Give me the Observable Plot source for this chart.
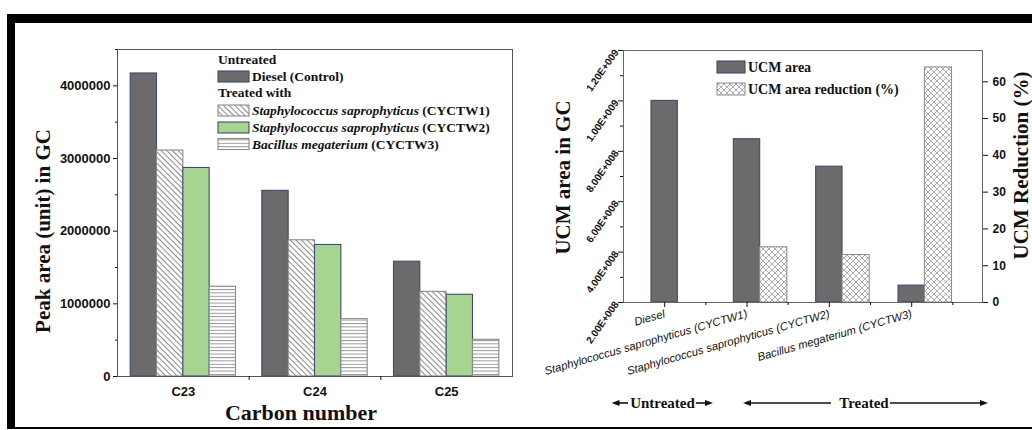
<!DOCTYPE html>
<html><head><meta charset="utf-8">
<script src="https://cdn.jsdelivr.net/npm/d3@7"></script>
<script src="https://cdn.jsdelivr.net/npm/@observablehq/plot@0.6"></script>
<style>
body{margin:0;background:#fff;}
#root{position:relative;width:1032px;height:430px;overflow:hidden;background:#fff;}
.panel{position:absolute;top:0;height:430px;}
.border{position:absolute;background:#000;}
.ital text{font-style:italic;}
</style></head><body>
<div id="root">
 <div id="left" class="panel" style="left:0;width:520px"></div>
 <div id="right" class="panel" style="left:520px;width:512px"></div>
 <div class="border" style="left:7px;top:14px;width:1025px;height:9px"></div>
 <div class="border" style="left:7px;top:14px;width:8px;height:415px"></div>
 <div class="border" style="left:7px;top:427px;width:1025px;height:2px"></div>
</div>
<script>
// ---------- data ----------
const carbons = ["C23", "C24", "C25"];
const peakSeries = ["Diesel (Control)", "Staphylococcus saprophyticus (CYCTW1)", "Staphylococcus saprophyticus (CYCTW2)", "Bacillus megaterium (CYCTW3)"];
const dieselPeak = [4170000, 2555000, 1580000];
const cyctw1Peak = [3110000, 1875000, 1165000];
const cyctw2Peak = [2870000, 1810000, 1125000];
const cyctw3Peak = [1235000, 790000, 505000];
const peakTicks = [0, 1000000, 2000000, 3000000, 4000000];
const peakMinorTicks = [500000, 1500000, 2500000, 3500000, 4500000];

const treatments = ["Diesel", "Staphylococcus saprophyticus (CYCTW1)", "Staphylococcus saprophyticus (CYCTW2)", "Bacillus megaterium (CYCTW3)"];
const ucmArea = [1.0e9, 8.48e8, 7.39e8, 2.67e8];
const ucmReduction = [null, 15.0, 12.9, 63.9];
const ucmTicks = [2e8, 4e8, 6e8, 8e8, 1e9, 1.2e9];
const ucmMinorTicks = [3e8, 5e8, 7e8, 9e8, 1.1e9];
const pctTicks = [0, 10, 20, 30, 40, 50, 60];
const pctMax = 68.5;

// ---------- styles ----------
const SERIF = "'Liberation Serif','Times New Roman',serif";
const SANS = "'Liberation Sans',Arial,sans-serif";
const darkFill = "#6d6a6c", darkStroke = "#3f4a72";
const fills = [darkFill, "url(#pL-diag)", "#a7d591", "url(#pL-horiz)"];
const strokes = [darkStroke, "#8a8a8a", darkStroke, "#8a8a8a"];

function addDefs(svg, which) {
  const defs = d3.select(svg).insert("defs", ":first-child");
  if (which === "L") {
    const p1 = defs.append("pattern").attr("id", "pL-diag").attr("patternUnits", "userSpaceOnUse")
      .attr("width", 4).attr("height", 4).attr("patternTransform", "rotate(45)");
    p1.append("rect").attr("width", 4).attr("height", 4).attr("fill", "#fff");
    p1.append("line").attr("x1", 0).attr("y1", 0.5).attr("x2", 4).attr("y2", 0.5).attr("stroke", "#8c8c8c").attr("stroke-width", 1.1);
    const p2 = defs.append("pattern").attr("id", "pL-horiz").attr("patternUnits", "userSpaceOnUse")
      .attr("width", 4).attr("height", 3.4);
    p2.append("rect").attr("width", 4).attr("height", 3.4).attr("fill", "#fff");
    p2.append("line").attr("x1", 0).attr("y1", 0.5).attr("x2", 4).attr("y2", 0.5).attr("stroke", "#8c8c8c").attr("stroke-width", 0.9);
  } else {
    const p = defs.append("pattern").attr("id", "pR-cross").attr("patternUnits", "userSpaceOnUse")
      .attr("width", 6).attr("height", 6);
    p.append("rect").attr("width", 6).attr("height", 6).attr("fill", "#fff");
    p.append("path").attr("d", "M0,0L6,6M6,0L0,6").attr("stroke", "#999").attr("stroke-width", 0.8).attr("fill", "none");
  }
}

// ---------- left chart ----------
const peakRows = [];
[dieselPeak, cyctw1Peak, cyctw2Peak, cyctw3Peak].forEach((vals, j) =>
  vals.forEach((v, i) => peakRows.push({carbon: i, series: j, value: v})));
const BW = 0.2;

const left = Plot.plot({
  width: 520, height: 430,
  marginLeft: 117, marginRight: 8, marginTop: 49, marginBottom: 54,
  style: {background: "transparent", fontFamily: SANS, color: "#111"},
  x: {domain: [-0.5, 2.5], label: null},
  y: {domain: [0, 4500000], label: null},
  color: {type: "identity"},
  marks: [
    Plot.rectY(peakRows, {
      x1: d => d.carbon + (d.series - 2) * BW,
      x2: d => d.carbon + (d.series - 1) * BW,
      y1: 0, y2: "value",
      fill: d => fills[d.series], stroke: d => strokes[d.series], strokeWidth: 1.1
    }),
    Plot.frame({stroke: "#555"}),
    Plot.axisY({ticks: peakTicks, tickSize: 4, tickPadding: 3, tickFormat: d => String(d),
      fontSize: 13, fontWeight: "bold", fontFamily: SANS, label: null}),
    Plot.axisY({ticks: peakMinorTicks, tickSize: 2, tickFormat: () => "", label: null}),
    Plot.axisX({ticks: [0, 1, 2], tickSize: 0, tickPadding: 10, tickFormat: i => carbons[i],
      fontSize: 13, fontWeight: "bold", fontFamily: SANS, label: null}),
    Plot.axisX({ticks: [0.5, 1.5], tickSize: 4, tickFormat: () => "", label: null}),
    Plot.text(["Peak area (unit) in GC"], {text: d => d, frameAnchor: "left", rotate: -90, dx: -74, dy: 18,
      textAnchor: "middle", lineAnchor: "middle",
      fontSize: 21, fontWeight: "bold", fontFamily: SERIF, fill: "#111"}),
    Plot.text(["Carbon number"], {text: d => d, frameAnchor: "bottom", dx: -14, dy: 36, lineAnchor: "middle",
      textAnchor: "middle",
      fontSize: 22, fontWeight: "bold", fontFamily: SERIF, fill: "#111", letterSpacing: "0.5px"})
  ]
});
addDefs(left, "L");
{
  const g = d3.select(left).append("g").attr("font-family", SERIF).attr("font-weight", "bold")
    .attr("font-size", 13.5).attr("fill", "#111").attr("text-anchor", "start");
  g.append("text").attr("x", 218).attr("y", 64).text("Untreated");
  g.append("text").attr("x", 218).attr("y", 97).text("Treated with");
  const rows = [
    {y: 71, ty: 81, s: 0},
    {y: 105, ty: 115, s: 1},
    {y: 122, ty: 132, s: 2},
    {y: 138.5, ty: 148.5, s: 3}
  ];
  rows.forEach(r => {
    g.append("rect").attr("x", 218).attr("y", r.y).attr("width", 31).attr("height", 11)
      .attr("fill", fills[r.s]).attr("stroke", strokes[r.s]).attr("stroke-width", 1.1);
    const t = g.append("text").attr("x", 252).attr("y", r.ty);
    const name = peakSeries[r.s];
    const k = name.indexOf(" (");
    if (r.s === 0) t.text(name);
    else {
      t.append("tspan").attr("font-style", "italic").text(name.slice(0, k));
      t.append("tspan").text(name.slice(k));
    }
  });
}
document.getElementById("left").appendChild(left);

// ---------- right chart ----------
const pctUnit = 1e9 / pctMax;
const toUcm = p => 2e8 + p * pctUnit;
const sci = d => {
  const e = Math.floor(Math.log10(d) + 1e-9);
  const m = d / Math.pow(10, e);
  return m.toFixed(2) + "E+" + String(e).padStart(3, "0");
};
const areaRows = treatments.map((t, i) => ({i, v: ucmArea[i]}));
const redRows = treatments.map((t, i) => ({i, p: ucmReduction[i]})).filter(d => d.p != null);

const right = Plot.plot({
  width: 512, height: 430,
  marginLeft: 103, marginRight: 50, marginTop: 50, marginBottom: 128,
  style: {background: "transparent", fontFamily: SANS, color: "#111", overflow: "visible"},
  x: {domain: [-0.5, 3.86], label: null},
  y: {domain: [2e8, 1.2e9], label: null},
  marks: [
    Plot.rectY(areaRows, {x1: d => d.i - 0.16, x2: d => d.i + 0.16, y1: 2e8, y2: "v",
      fill: darkFill, stroke: darkStroke, strokeWidth: 1.1}),
    Plot.rectY(redRows, {x1: d => d.i + 0.16, x2: d => d.i + 0.49, y1: 2e8, y2: d => toUcm(d.p),
      fill: "url(#pR-cross)", stroke: "#8a8a8a", strokeWidth: 1}),
    Plot.frame({stroke: "#666"}),
    Plot.axisY({ticks: ucmTicks, tickSize: 5, tickPadding: 2, tickRotate: -55, tickFormat: sci,
      fontSize: 10, fontWeight: "bold", fontFamily: SANS, label: null}),
    Plot.axisY({ticks: ucmMinorTicks, tickSize: 3, tickFormat: () => "", label: null}),
    Plot.axisY({anchor: "right", ticks: pctTicks.map(toUcm), tickSize: 5, tickPadding: 5,
      tickFormat: v => String(Math.round((v - 2e8) / pctUnit)),
      fontSize: 12, fontWeight: "bold", fontFamily: SANS, label: null}),
    Plot.axisX({ticks: [0, 1, 2, 3], tickSize: 5, tickPadding: 6, tickRotate: -16,
      tickFormat: i => treatments[i], fontSize: 11.3, fontStyle: "italic", fontFamily: SANS,
      className: "ital", label: null}),
    Plot.axisX({ticks: [0.5, 1.5, 2.5, 3.5], tickSize: 3, tickFormat: () => "", label: null}),
    Plot.text(["UCM area in GC"], {text: d => d, frameAnchor: "left", rotate: -90, dx: -60, dy: 1,
      textAnchor: "middle", lineAnchor: "middle",
      fontSize: 21, fontWeight: "bold", fontFamily: SERIF, fill: "#111"}),
    Plot.text(["UCM Reduction (%)"], {text: d => d, frameAnchor: "right", rotate: -90, dx: 39, dy: -11,
      textAnchor: "middle", lineAnchor: "middle",
      fontSize: 21, fontWeight: "bold", fontFamily: SERIF, fill: "#111"})
  ]
});
addDefs(right, "R");
d3.select(right).selectAll("text")
  .filter(function() { return treatments.includes(this.textContent.trim()); })
  .attr("font-style", "italic")
  .style("font-style", "italic");
{
  const svg = d3.select(right);
  const g = svg.append("g").attr("font-family", SERIF).attr("font-weight", "bold")
    .attr("font-size", 14).attr("fill", "#111").attr("text-anchor", "start");
  g.append("rect").attr("x", 197).attr("y", 61).attr("width", 28).attr("height", 12)
    .attr("fill", darkFill).attr("stroke", darkStroke).attr("stroke-width", 1.1);
  g.append("text").attr("x", 228).attr("y", 71.5).text("UCM area");
  g.append("rect").attr("x", 197).attr("y", 83).attr("width", 28).attr("height", 12)
    .attr("fill", "url(#pR-cross)").attr("stroke", "#8a8a8a");
  g.append("text").attr("x", 228).attr("y", 93.5).text("UCM area reduction (%)");

  // Untreated / Treated annotation
  const a = svg.append("g").attr("font-family", SERIF).attr("font-weight", "bold").attr("font-size", 15).attr("fill", "#111");
  const yA = 403;
  const arrow = (x1, x2) => {
    const dir = Math.sign(x2 - x1);
    a.append("line").attr("x1", x1).attr("y1", yA).attr("x2", x2 - dir * 6).attr("y2", yA)
      .attr("stroke", "#111").attr("stroke-width", 1.6);
    a.append("path").attr("d", `M${x2},${yA}L${x2 - dir * 8},${yA - 3}L${x2 - dir * 8},${yA + 3}Z`).attr("fill", "#111");
  };
  arrow(108, 91.5);
  arrow(176, 193);
  arrow(311, 223);
  arrow(370, 468);
  a.append("text").attr("x", 142.5).attr("y", yA).attr("dy", "0.32em").attr("text-anchor", "middle").text("Untreated");
  a.append("text").attr("x", 344).attr("y", yA).attr("dy", "0.32em").attr("text-anchor", "middle").text("Treated");
}
document.getElementById("right").appendChild(right);
</script>
</body></html>
